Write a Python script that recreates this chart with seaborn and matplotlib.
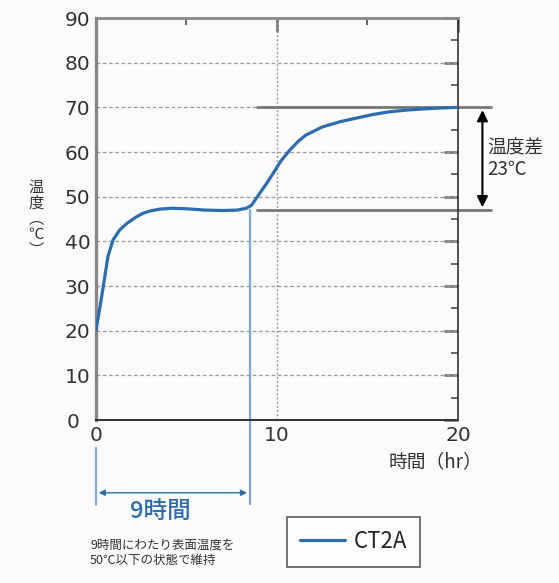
import numpy as np
import pandas as pd
import seaborn as sns
import matplotlib.pyplot as plt
from matplotlib.patches import FancyArrowPatch

# ── Data ────────────────────────────────────────────────────────────
hours = [0, 0.22, 0.4, 0.66, 0.94, 1.3, 1.7, 2.2, 2.6, 3.0, 3.5, 4.2, 5.0,
         6.0, 7.0, 7.8, 8.3, 8.6, 9.0, 9.4, 9.8, 10.2, 10.7, 11.2, 11.6,
         12.5, 13.5, 14.4, 15.3, 16.2, 17.2, 18.1, 19.0, 20.0]
temp_ct2a = [20.1, 25.3, 29.8, 36.6, 40.3, 42.5, 44.0, 45.4, 46.3, 46.8, 47.2,
             47.4, 47.3, 47.0, 46.9, 47.0, 47.4, 48.1, 50.5, 52.8, 55.3, 57.9,
             60.4, 62.5, 63.8, 65.6, 66.8, 67.6, 68.4, 69.0, 69.4, 69.65, 69.85, 70.0]
series_name = "CT2A"

plateau_end = 8.5      # 9時間 marker
plateau_temp = 47
final_temp = 70

y_ticks = [0, 10, 20, 30, 40, 50, 60, 70, 80, 90]
x_ticks = [0, 10, 20]

BLUE = "#2e6cb0"
LIGHT_BLUE = "#7fa9d6"
TXT = "#333333"

df = pd.DataFrame({"hours": hours, "temp": temp_ct2a})

sns.set_style("white")
plt.rcParams['font.family'] = ['Noto Sans CJK JP', 'DejaVu Sans']

fig = plt.figure(figsize=(5.59, 5.83), dpi=100)
fig.patch.set_facecolor("#fbfbfb")
ax = fig.add_axes([0.1717, 0.2796, 0.8193 - 0.1717, 0.9691 - 0.2796])
ax.set_facecolor("#fbfbfb")

# grid
for yv in range(10, 90, 10):
    ax.axhline(yv, color="#9a9a9a", lw=0.9, ls=(0, (3, 2)), zorder=1)
ax.axvline(10, color="#9a9a9a", lw=1.0, ls=(0, (1.5, 1.5)), zorder=1)

# reference lines for temperature difference
ax.plot([8.9, 21.8], [final_temp, final_temp], color="#777777", lw=2, clip_on=False, zorder=2)
ax.plot([8.9, 21.8], [plateau_temp, plateau_temp], color="#777777", lw=2, clip_on=False, zorder=2)

# 9h vertical marker
ax.plot([plateau_end, plateau_end], [plateau_temp, -18.7], color=LIGHT_BLUE, lw=1.6,
        clip_on=False, zorder=2)
ax.plot([0, 0], [-6.3, -19.0], color=LIGHT_BLUE, lw=1.6, clip_on=False, zorder=2)

sns.lineplot(data=df, x="hours", y="temp", ax=ax, color=BLUE, lw=2.3,
             label=series_name, zorder=3)

ax.set_xlim(0, 20)
ax.set_ylim(0, 90)
ax.set_xticks(x_ticks)
ax.set_yticks(y_ticks)
ax.set_xticks([5, 15], minor=True)
ax.set_yticks(np.arange(5, 90, 10), minor=True)
ax.tick_params(axis="both", which="major", direction="in", length=10, width=1.8,
               color="#666666", pad=4, right=True, top=True)
ax.tick_params(axis="both", which="minor", direction="in", length=5, width=1.4,
               color="#666666", right=True, top=True)
ax.set_yticklabels(["" if v == 0 else str(v) for v in y_ticks],
                   fontsize=14.5, color=TXT, family="DejaVu Sans")
ax.set_xticklabels([str(v) for v in x_ticks], fontsize=14.5, color=TXT,
                   family="DejaVu Sans")
ax.set_xlabel("")
ax.set_ylabel("")
ax.text(-0.9, -0.5, "0", fontsize=14.5, color=TXT, ha="right", va="center",
        family="DejaVu Sans")

ax.spines["left"].set_color("#888888")
ax.spines["left"].set_linewidth(2.4)
ax.spines["top"].set_color("#888888")
ax.spines["top"].set_linewidth(2.0)
ax.spines["bottom"].set_color("#333333")
ax.spines["bottom"].set_linewidth(1.4)
ax.spines["right"].set_color("#333333")
ax.spines["right"].set_linewidth(1.2)

# axis labels
ax.text(18.75, -9.4, "時間（hr）", fontsize=13.5, color=TXT, ha="center", va="center")
# vertical (tategaki) y label
ax.text(-3.3, 45, "温\n度\n︵\n℃\n︶", fontsize=11, color=TXT, ha="center",
        va="center", linespacing=0.9)

# temperature difference arrow
arr = FancyArrowPatch((21.35, final_temp), (21.35, plateau_temp), arrowstyle="<|-|>",
                      mutation_scale=16, color="black", lw=1.5, clip_on=False)
ax.add_patch(arr)
ax.text(21.6, 58.5, "温度差\n23℃", fontsize=13.5, color=TXT, ha="left", va="center",
        linespacing=1.0)

# 9 hours arrow below axis
arr2 = FancyArrowPatch((0, -16.3), (plateau_end, -16.3), arrowstyle="<|-|>",
                       mutation_scale=9, color=BLUE, lw=1.0, clip_on=False)
ax.add_patch(arr2)
ax.text(3.54, -20.8, "9時間", fontsize=17, color=BLUE, ha="center",
        va="center", fontweight="medium")
ax.text(-0.33, -29.8, "9時間にわたり表面温度を\n50℃以下の状態で維持", fontsize=9,
        color=TXT, ha="left", va="center", linespacing=1.25)

leg = ax.legend(loc="upper left", bbox_to_anchor=(0.5276, -0.241), fontsize=16,
                frameon=True, fancybox=False, handlelength=2.0, borderpad=0.6,
                handletextpad=0.4, borderaxespad=0)
leg.get_frame().set_edgecolor("#333333")
leg.get_frame().set_linewidth(1.2)
leg.get_frame().set_facecolor("white")

fig.savefig("out.png", dpi=100, facecolor=fig.get_facecolor())
